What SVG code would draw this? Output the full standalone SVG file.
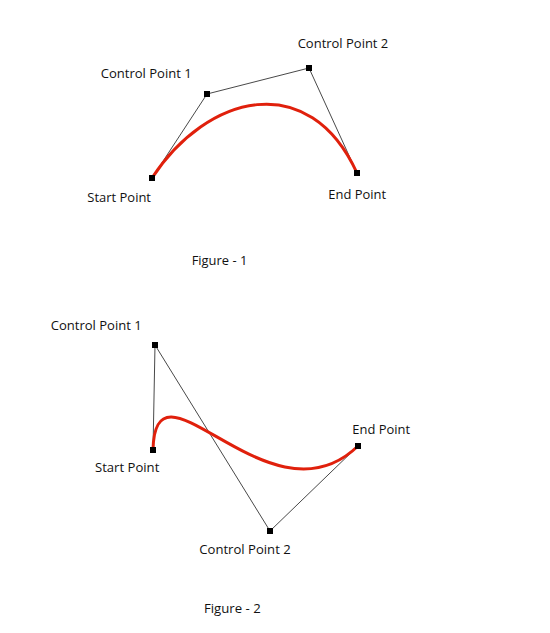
<svg xmlns="http://www.w3.org/2000/svg" width="550" height="633" viewBox="0 0 550 633">
<style>
text{font-family:"Open Sans","Liberation Sans",sans-serif;font-size:13px;fill:#111}
.hull{fill:none;stroke:#333;stroke-width:0.9}
.curve{fill:none;stroke:#e0200c;stroke-width:3;stroke-linecap:round}
.pt{fill:#000}
</style>
<rect width="550" height="633" fill="#fff"/>
<g id="connectors">
<polyline class="hull" points="152,178 207,94 309,68 357,173"/>
<path class="curve" d="M152,178 C207,94 309,68 357,173"/>
<polyline class="hull" points="153,450 155,345 270,531 358,446"/>
<path class="curve" d="M153,450 C155,345 270,531 358,446"/>
</g>
<g id="f1-start"><rect class="pt" x="149" y="175" width="6" height="6"/><text x="87.3" y="201.7" textLength="63.7" lengthAdjust="spacingAndGlyphs">Start Point</text></g>
<g id="f1-cp1"><rect class="pt" x="204" y="91" width="6" height="6"/><text x="100.7" y="78.3" textLength="91" lengthAdjust="spacingAndGlyphs">Control Point 1</text></g>
<g id="f1-cp2"><rect class="pt" x="306" y="65" width="6" height="6"/><text x="297.7" y="48.3" textLength="90.6" lengthAdjust="spacingAndGlyphs">Control Point 2</text></g>
<g id="f1-end"><rect class="pt" x="354" y="170" width="6" height="6"/><text x="328.3" y="199.3" textLength="57.7" lengthAdjust="spacingAndGlyphs">End Point</text></g>
<g id="f1-caption"><text x="191.7" y="265" textLength="55.6" lengthAdjust="spacingAndGlyphs">Figure - 1</text></g>
<g id="f2-start"><rect class="pt" x="150" y="447" width="6" height="6"/><text x="95" y="472.3" textLength="64.3" lengthAdjust="spacingAndGlyphs">Start Point</text></g>
<g id="f2-cp1"><rect class="pt" x="152" y="342" width="6" height="6"/><text x="50.7" y="330" textLength="91" lengthAdjust="spacingAndGlyphs">Control Point 1</text></g>
<g id="f2-cp2"><rect class="pt" x="267" y="528" width="6" height="6"/><text x="199.3" y="554" textLength="91.4" lengthAdjust="spacingAndGlyphs">Control Point 2</text></g>
<g id="f2-end"><rect class="pt" x="355" y="443" width="6" height="6"/><text x="352.3" y="434.3" textLength="57.7" lengthAdjust="spacingAndGlyphs">End Point</text></g>
<g id="f2-caption"><text x="204" y="612.5" textLength="56.7" lengthAdjust="spacingAndGlyphs">Figure - 2</text></g>
</svg>
